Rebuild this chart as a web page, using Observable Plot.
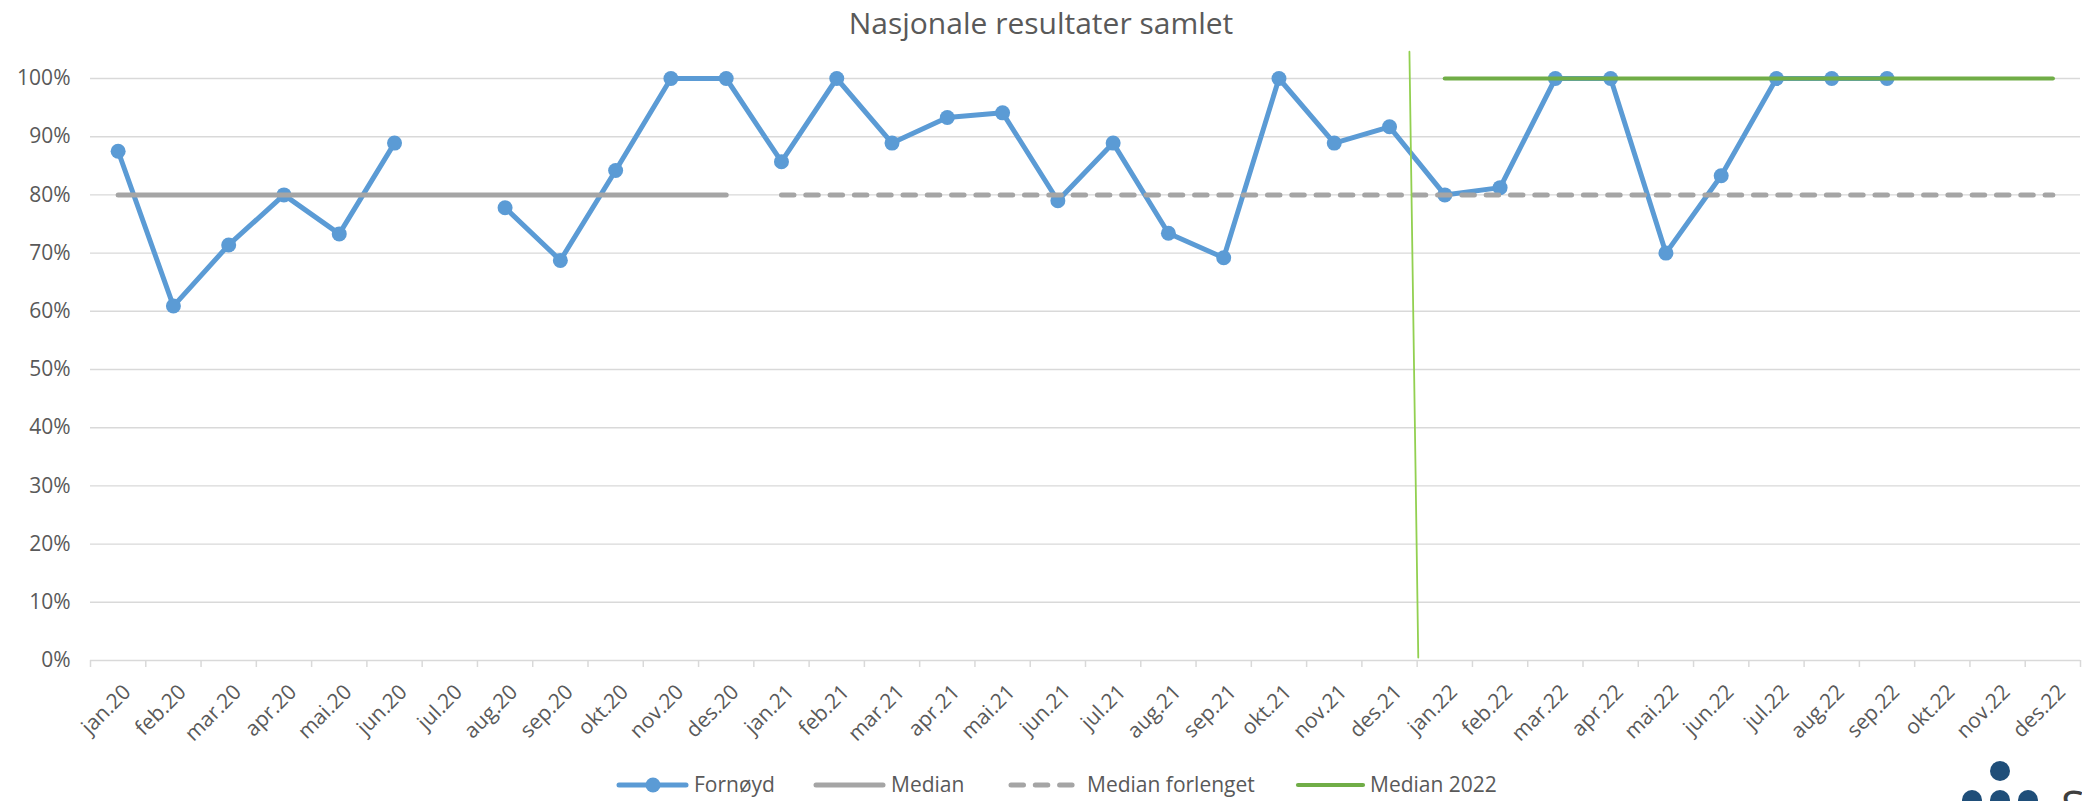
<!DOCTYPE html>
<html>
<head>
<meta charset="utf-8">
<script src="https://cdn.jsdelivr.net/npm/d3@7"></script>
<script src="https://cdn.jsdelivr.net/npm/@observablehq/plot@0.6"></script>
<style>
  html, body { margin: 0; padding: 0; background: #fff; }
  #wrap { position: relative; width: 2082px; height: 801px; overflow: hidden; font-family: "Open Sans", sans-serif; }
  #wrap > svg { position: absolute; left: 0; top: 0; }
  #overlay { pointer-events: none; }
</style>
</head>
<body>
<div id="wrap"></div>
<script>
// ---- data ----
const months = [
  "jan.20","feb.20","mar.20","apr.20","mai.20","jun.20","jul.20","aug.20","sep.20","okt.20","nov.20","des.20",
  "jan.21","feb.21","mar.21","apr.21","mai.21","jun.21","jul.21","aug.21","sep.21","okt.21","nov.21","des.21",
  "jan.22","feb.22","mar.22","apr.22","mai.22","jun.22","jul.22","aug.22","sep.22","okt.22","nov.22","des.22"
];
const fornoyd = [
  0.875, 0.609, 0.714, 0.800, 0.733, 0.889, null, 0.778, 0.6875, 0.842, 1.000, 1.000,
  0.857, 1.000, 0.889, 0.933, 0.941, 0.790, 0.889, 0.734, 0.692, 1.000, 0.889, 0.917,
  0.800, 0.8125, 1.000, 1.000, 0.700, 0.833, 1.000, 1.000, 1.000, null, null, null
];
const median = [{m: "jan.20", v: 0.8}, {m: "des.20", v: 0.8}];
const medianForlenget = [{m: "jan.21", v: 0.8}, {m: "des.22", v: 0.8}];
const median2022 = [{m: "jan.22", v: 1.0}, {m: "des.22", v: 1.0}];
// hand-drawn divider line (in data units: month index, share)
const dividerLine = [{x: 23.36, y: 1.046}, {x: 23.52, y: 0.005}];
const yTicks = [0, 0.1, 0.2, 0.3, 0.4, 0.5, 0.6, 0.7, 0.8, 0.9, 1.0];
const legendItems = ["Fornøyd", "Median", "Median forlenget", "Median 2022"];
const title = "Nasjonale resultater samlet";

// ---- derived tables ----
const idx = m => months.indexOf(m);
const series = fornoyd.map((v, i) => ({i, v}));
const points = series.filter(d => d.v != null);
const boundaries = d3.range(months.length + 1).map(i => i - 0.5);

const W = 2082, H = 801;
const BLUE = "#5B9BD5", GREY = "#A5A5A5", GREEN = "#70AD47", LIME = "#92D050", TEXT = "#595959", GRID = "#D9D9D9";

const chart = Plot.plot({
  width: W,
  height: H,
  marginLeft: 90,
  marginRight: 2,
  marginTop: 78,
  marginBottom: 141,
  style: {fontFamily: "Open Sans, sans-serif", fontSize: "21px", color: TEXT, background: "white", overflow: "visible"},
  x: {type: "linear", domain: [-0.5, months.length - 0.5]},
  y: {domain: [0, 1]},
  marks: [
    Plot.ruleY(yTicks, {stroke: GRID, strokeWidth: 1.4}),
    Plot.axisY({ticks: yTicks, tickFormat: d => Math.round(d * 100) + "%", tickSize: 0, tickPadding: 20, fontSize: 21, fill: TEXT, label: null}),
    Plot.axisX({ticks: boundaries, tickFormat: () => "", tickSize: 7, stroke: GRID, strokeWidth: 1.5, label: null}),
    Plot.axisX({ticks: d3.range(months.length), tickFormat: i => months[i], tickSize: 0, tickRotate: -45, tickPadding: 28, dx: 9, fontSize: 21, fill: TEXT, label: null}),
    Plot.line(series, {x: "i", y: "v", stroke: BLUE, strokeWidth: 5, strokeLinejoin: "round", strokeLinecap: "round"}),
    Plot.dot(points, {x: "i", y: "v", r: 7.5, fill: BLUE, stroke: "none"}),
    Plot.line(median, {x: d => idx(d.m), y: "v", stroke: GREY, strokeWidth: 5, strokeLinecap: "round"}),
    Plot.line(medianForlenget, {x: d => idx(d.m), y: "v", stroke: GREY, strokeWidth: 5, strokeLinecap: "round", strokeDasharray: "12.5,11.8"}),
    Plot.line(median2022, {x: d => idx(d.m), y: "v", stroke: GREEN, strokeWidth: 4.2, strokeLinecap: "round"}),
    Plot.line(dividerLine, {x: "x", y: "y", stroke: LIME, strokeWidth: 1.8})
  ]
});

const wrap = document.getElementById("wrap");
wrap.appendChild(chart);

// ---- overlay: title, legend, logo ----
const ov = d3.create("svg").attr("id", "overlay").attr("width", W).attr("height", H)
  .attr("font-family", "Open Sans, sans-serif");

ov.append("text").attr("x", W / 2).attr("y", 34).attr("text-anchor", "middle")
  .attr("font-size", 30).attr("fill", TEXT).text(title);

const ly = 785;
const lg = ov.append("g");
// Fornøyd
lg.append("line").attr("x1", 619).attr("x2", 686).attr("y1", ly).attr("y2", ly).attr("stroke", BLUE).attr("stroke-width", 5).attr("stroke-linecap", "round");
lg.append("circle").attr("cx", 653).attr("cy", ly).attr("r", 7.5).attr("fill", BLUE);
lg.append("text").attr("x", 694).attr("y", ly + 7).attr("font-size", 21).attr("fill", TEXT).text(legendItems[0]);
// Median
lg.append("line").attr("x1", 816).attr("x2", 883).attr("y1", ly).attr("y2", ly).attr("stroke", GREY).attr("stroke-width", 5).attr("stroke-linecap", "round");
lg.append("text").attr("x", 891).attr("y", ly + 7).attr("font-size", 21).attr("fill", TEXT).text(legendItems[1]);
// Median forlenget
lg.append("line").attr("x1", 1011).attr("x2", 1074).attr("y1", ly).attr("y2", ly).attr("stroke", GREY).attr("stroke-width", 5).attr("stroke-linecap", "round").attr("stroke-dasharray", "12.5,11.8");
lg.append("text").attr("x", 1087).attr("y", ly + 7).attr("font-size", 21).attr("fill", TEXT).text(legendItems[2]);
// Median 2022
lg.append("line").attr("x1", 1298).attr("x2", 1363).attr("y1", ly).attr("y2", ly).attr("stroke", GREEN).attr("stroke-width", 4.2).attr("stroke-linecap", "round");
lg.append("text").attr("x", 1370).attr("y", ly + 7).attr("font-size", 21).attr("fill", TEXT).text(legendItems[3]);

// logo fragment (bottom right)
const logo = ov.append("g").attr("fill", "#1F4E79");
[[2000, 771], [1972, 800], [2000, 800], [2028, 800]].forEach(([cx, cy]) =>
  logo.append("circle").attr("cx", cx).attr("cy", cy).attr("r", 10));
ov.append("text").attr("x", 2061).attr("y", 822).attr("font-size", 44).attr("fill", "#3F3F3F").text("S");

wrap.appendChild(ov.node());
</script>
</body>
</html>
